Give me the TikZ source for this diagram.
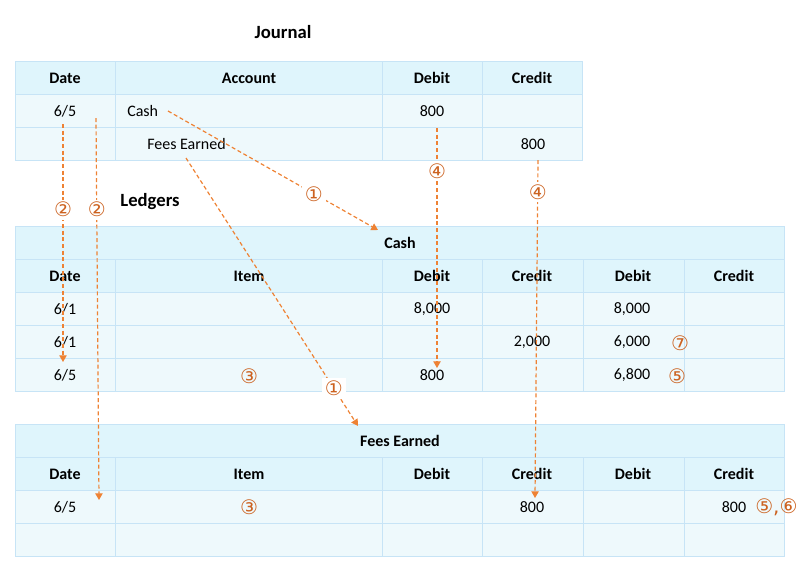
\documentclass[tikz,border=0pt]{standalone}
\usepackage{fontspec}
\setmainfont{Carlito}
\newfontfamily\circfont{DejaVu Sans}
\usetikzlibrary{arrows.meta}
\definecolor{hdrfill}{RGB}{223,245,252}
\definecolor{rowfill}{RGB}{238,249,252}
\definecolor{cellline}{RGB}{199,228,246}
\definecolor{linkline}{RGB}{238,130,52}
\definecolor{marknum}{RGB}{204,98,32}
\tikzset{
  cell/.style={font=\fontsize{12}{14}\selectfont,inner sep=0pt},
  head/.style={font=\fontsize{12}{14}\selectfont\bfseries,inner sep=0pt},
  bigtitle/.style={font=\fontsize{14}{16}\selectfont\bfseries,inner sep=0pt},
  tag/.style={font=\circfont\fontsize{15}{17}\selectfont,text=marknum,inner sep=0pt},
  ontag/.style={tag,fill=white,inner sep=2pt},
  link/.style={linkline,line width=0.9pt,dash pattern=on 3pt off 2pt,-{Triangle[length=5pt,width=5.5pt]}}
}
\begin{document}
\begin{tikzpicture}[x=0.75pt,y=-0.75pt]
  \useasboundingbox (0,0) rectangle (802,562);
  \node[bigtitle] (jtitle) at (283,32) {Journal};
  \node[bigtitle] (ltitle) at (150,202) {Ledgers};
  \fill[hdrfill] (15,61) rectangle (582,94);
  \fill[rowfill] (15,94) rectangle (582,160);
  \draw[cellline] (15,61) rectangle (582,160);
  \foreach \y in {94,127} \draw[cellline] (15,\y) -- (582,\y);
  \foreach \x in {115,382,482} \draw[cellline] (\x,61) -- (\x,160);
  \foreach \x/\h [count=\i] in {65/Date,249/Account,432/Debit,532/Credit} \node[head] (jh\i) at (\x,78) {\h};
  \node[cell] (jd1) at (65,111) {6/5};
  \node[cell,anchor=west] (ja1) at (127,111) {Cash};
  \node[cell] (jr1) at (432,111) {800};
  \node[cell,anchor=west] (ja2) at (147,144) {Fees Earned};
  \node[cell] (jc2) at (533,144) {800};
  \foreach \t/\b/\n/\p/\name in {226/391/3/c/Cash,424/556/2/f/Fees Earned} {
    \fill[hdrfill] (15,\t) rectangle (784,\t+66);
    \fill[rowfill] (15,\t+66) rectangle (784,\b);
    \draw[cellline] (15,\t) rectangle (784,\b);
    \foreach \r in {0,...,\n} \draw[cellline] (15,\t+33+33*\r) -- (784,\t+33+33*\r);
    \foreach \x in {115,382,482,583,684} \draw[cellline] (\x,\t+33) -- (\x,\b);
    \node[head] (\p title) at (400,\t+17) {\name};
    \foreach \x/\h [count=\i] in {65/Date,249/Item,432/Debit,532/Credit,633/Debit,734/Credit} \node[head] (\p h\i) at (\x,\t+50) {\h};
  }
  \node[cell] (cd1) at (65,309) {6/1};
  \node[cell] (cr1) at (432,309) {8,000};
  \node[cell] (cb1) at (632,309) {8,000};
  \node[cell] (cd2) at (65,342) {6/1};
  \node[cell] (cc2) at (532,342) {2,000};
  \node[cell] (cb2) at (632,342) {6,000};
  \node[cell] (cd3) at (65,375) {6/5};
  \node[cell] (cr3) at (432,375) {800};
  \node[cell] (cb3) at (632,375) {6,800};
  \node[tag] (t3a) at (249,376) {③};
  \node[tag] (t7) at (680,343) {⑦};
  \node[tag] (t5a) at (677,376) {⑤};
  \node[cell] (fd1) at (65,507) {6/5};
  \node[cell] (fc1) at (532,507) {800};
  \node[cell] (fb1) at (734,507) {800};
  \node[tag] (t3b) at (249,507) {③};
  \node[tag,anchor=west] (t56) at (755,507) {⑤,⑥};
  \coordinate (a1s) at (168,111); \coordinate (a1e) at (378,230);
  \coordinate (a2s) at (186,158); \coordinate (a2e) at (358,426);
  \coordinate (a3s) at (63,124);  \coordinate (a3e) at (63,362);
  \coordinate (a4s) at (96,118);  \coordinate (a4e) at (99,500);
  \coordinate (a5s) at (437,128); \coordinate (a5e) at (437,368);
  \coordinate (a6s) at (538,160); \coordinate (a6e) at (535,498);
  \draw[link] (a1s) -- node[ontag,pos=0.695] (n1) {①} (a1e);
  \draw[link] (a2s) -- node[ontag,pos=0.86] (n2) {①} (a2e);
  \draw[link] (a3s) -- node[ontag,pos=0.36] (n3) {②} (a3e);
  \draw[link] (a4s) -- node[ontag,pos=0.24] (n4) {②} (a4e);
  \draw[link] (a5s) -- node[ontag,pos=0.18] (n5) {④} (a5e);
  \draw[link] (a6s) -- node[ontag,pos=0.095] (n6) {④} (a6e);
\end{tikzpicture}
\end{document}
